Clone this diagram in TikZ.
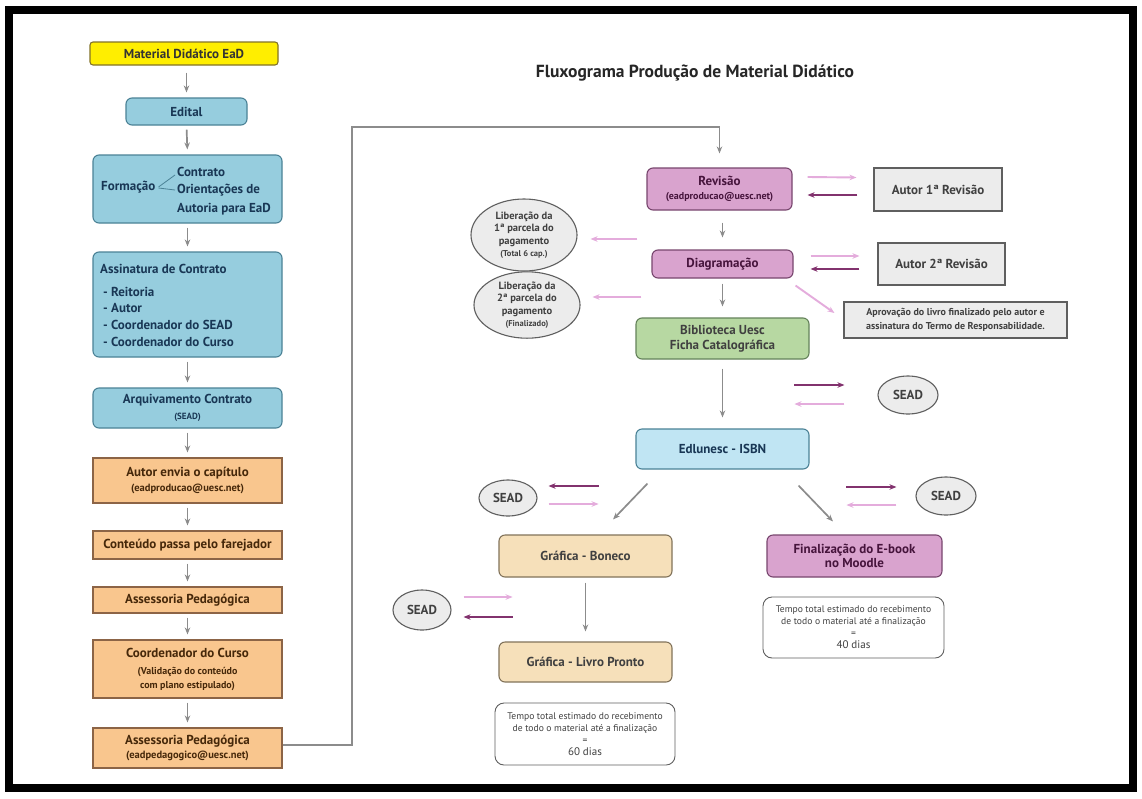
\documentclass[tikz,border=0pt]{standalone}
\usepackage{fontspec}
\setmainfont{PT Sans}
\usetikzlibrary{arrows.meta,shapes.geometric}
\definecolor{bluef}{RGB}{150,205,222}
\definecolor{blued}{RGB}{75,130,150}
\definecolor{bluet}{RGB}{25,55,85}
\definecolor{lbluef}{RGB}{192,229,243}
\definecolor{yelf}{RGB}{255,238,0}
\definecolor{yeld}{RGB}{130,115,40}
\definecolor{orf}{RGB}{249,198,142}
\definecolor{ord}{RGB}{140,100,70}
\definecolor{ort}{RGB}{70,40,10}
\definecolor{pkf}{RGB}{217,163,206}
\definecolor{pkd}{RGB}{120,70,110}
\definecolor{pkt}{RGB}{70,20,60}
\definecolor{grf}{RGB}{183,216,162}
\definecolor{grd}{RGB}{100,130,90}
\definecolor{tanf}{RGB}{246,224,186}
\definecolor{tand}{RGB}{130,115,90}
\definecolor{gyf}{RGB}{236,236,236}
\definecolor{gyd}{RGB}{95,95,95}
\definecolor{arrg}{RGB}{140,140,140}
\definecolor{arrl}{RGB}{228,172,220}
\definecolor{arrd}{RGB}{130,50,110}
\begin{document}
\begin{tikzpicture}[x=1pt,y=-1pt,
  bx/.style={draw, line width=1.1pt, inner sep=1pt, align=center,
    font=\fontsize{13}{16}\selectfont\bfseries},
  bluebox/.style={bx, fill=bluef, draw=blued, text=bluet, rounded corners=6pt},
  lbluebox/.style={bx, fill=lbluef, draw=blued, text=bluet, rounded corners=6pt},
  yelbox/.style={bx, fill=yelf, draw=yeld, text=black!80, rounded corners=3pt},
  orbox/.style={bx, fill=orf, draw=ord, text=ort},
  pkbox/.style={bx, fill=pkf, draw=pkd, text=pkt, rounded corners=6pt},
  grbox/.style={bx, fill=grf, draw=grd, text=black!75, rounded corners=6pt},
  tanbox/.style={bx, fill=tanf, draw=tand, text=black!75, rounded corners=6pt},
  gybox/.style={bx, fill=gyf, draw=gyd, text=black!75},
  gyell/.style={bx, ellipse, fill=gyf, draw=gyd, text=black!75, inner sep=0pt},
  notebox/.style={draw=gyd, line width=0.9pt, fill=white, rounded corners=9pt, align=center,
    font=\fontsize{9.6}{12}\selectfont, text=black!75, inner sep=0pt},
  ga/.style={draw=arrg, line width=1.7pt, -{Stealth[length=7pt,width=5.5pt]}},
  la/.style={draw=arrl, line width=1.9pt, -{Stealth[length=7pt,width=5.5pt]}},
  da/.style={draw=arrd, line width=1.9pt, -{Stealth[length=7pt,width=5.5pt]}},
  txt/.style={inner sep=0pt, text=bluet, font=\fontsize{13}{16}\selectfont\bfseries}
]
\useasboundingbox (0,0) rectangle (1142,798);
\fill[white] (0,0) rectangle (1142,798);
\draw[line width=8pt, black] (9,10) rectangle (1133,788);

% title
\node[inner sep=0pt, font=\fontsize{17.5}{20}\selectfont\bfseries, text=black!85] (title) at (695,73) {Fluxograma Produção de Material Didático};

% left column
\node[yelbox, minimum width=188, minimum height=23] (mat) at (184,53.5) {Material Didático EaD};
\node[bluebox, minimum width=121, minimum height=27] (edital) at (186.5,111.5) {Edital};
\node[bluebox, minimum width=189, minimum height=68] (form) at (187.5,189) {};
\node[txt, anchor=west] (fA) at (101,187) {Formação};
\node[txt, anchor=west] (fB) at (177,172) {Contrato};
\node[txt, anchor=west] (fC) at (177,190) {Orientações de};
\node[txt, anchor=west] (fD) at (177,209) {Autoria para EaD};
\draw[blued, line width=0.8pt] ([xshift=3pt]fA.east) -- ([xshift=-2pt,yshift=-3pt]fB.west);
\draw[blued, line width=0.8pt] ([xshift=3pt,yshift=-1pt]fA.east) -- ([xshift=-2pt]fC.west);

\node[bluebox, minimum width=189, minimum height=105] (assin) at (187.5,304.5) {};
\node[txt, anchor=west] (aT) at (100,269) {Assinatura de Contrato};
\node[txt, anchor=west] (a1) at (103,292) {- Reitoria};
\node[txt, anchor=west] (a2) at (103,308.5) {- Autor};
\node[txt, anchor=west] (a3) at (103,325) {- Coordenador do SEAD};
\node[txt, anchor=west] (a4) at (103,342) {- Coordenador do Curso};

\node[bluebox, minimum width=189, minimum height=40] (arq) at (187.5,408) {Arquivamento Contrato\\[0pt]\fontsize{9}{10}\selectfont (SEAD)};
\node[orbox, minimum width=189, minimum height=45] (autor) at (187.5,480.5) {Autor envia o capítulo\\[-1pt]\fontsize{10.5}{12}\selectfont (eadproducao@uesc.net)};
\node[orbox, minimum width=189, minimum height=28] (cont) at (187.5,545) {Conteúdo passa pelo farejador};
\node[orbox, minimum width=189, minimum height=26] (ass1) at (187.5,600) {Assessoria Pedagógica};
\node[orbox, minimum width=189, minimum height=58] (coord) at (187.5,669) {Coordenador do Curso\\[1pt]\fontsize{10}{11}\selectfont (Validação do conteúdo\\[-2pt]\fontsize{10}{11}\selectfont com plano estipulado)};
\node[orbox, minimum width=189, minimum height=40] (ass2) at (187.5,748) {Assessoria Pedagógica\\[-2pt]\fontsize{10.5}{12}\selectfont (eadpedagogico@uesc.net)};

\draw[ga, shorten <=7pt, shorten >=5pt] (mat.south -| edital.north) -- (edital.north);
\foreach \a/\b in {edital/form, form/assin, assin/arq, arq/autor, autor/cont, cont/ass1, ass1/coord, coord/ass2}
  \draw[ga, shorten <=4pt, shorten >=5pt] (\a.south) -- (\b.north);

% right column
\node[pkbox, minimum width=145, minimum height=42] (rev) at (719.5,189) {Revisão\\[-2pt]\fontsize{10}{12}\selectfont (eadproducao@uesc.net)};
\node[pkbox, minimum width=141, minimum height=28] (diag) at (722.5,264) {Diagramação};
\node[grbox, minimum width=173, minimum height=41] (bib) at (722.5,338.5) {Biblioteca Uesc\\[-1pt]Ficha Catalográfica};
\node[lbluebox, minimum width=173, minimum height=40] (edl) at (722.5,449) {Edlunesc - ISBN};
\node[gybox, minimum width=128, minimum height=43] (aut1) at (938,189.5) {Autor 1ª Revisão};
\node[gybox, minimum width=127, minimum height=42] (aut2) at (941.5,264) {Autor 2ª Revisão};
\node[gybox, minimum width=223, minimum height=36, font=\fontsize{10}{14}\selectfont\bfseries] (aprov) at (955.5,320) {Aprovação do livro finalizado pelo autor e\\assinatura do Termo de Responsabilidade.};
\node[gyell, minimum width=106, minimum height=72, font=\fontsize{10.5}{12.5}\selectfont\bfseries] (lib1) at (524,235) {Liberação da\\1ª parcela do\\pagamento\\\fontsize{8.5}{10}\selectfont (Total 6 cap.)};
\node[gyell, minimum width=106, minimum height=66, font=\fontsize{10.5}{12.5}\selectfont\bfseries] (lib2) at (527,305) {Liberação da\\2ª parcela do\\pagamento\\\fontsize{8.5}{10}\selectfont (Finalizado)};
\node[gyell, minimum width=60, minimum height=38] (sead1) at (908,395) {SEAD};
\node[gyell, minimum width=58, minimum height=36] (seadL) at (508,498) {SEAD};
\node[gyell, minimum width=60, minimum height=38] (seadR) at (946,496) {SEAD};
\node[gyell, minimum width=58, minimum height=40] (seadLL) at (422,610) {SEAD};
\node[tanbox, minimum width=173, minimum height=42] (gbon) at (585.5,556) {Gráfica - Boneco};
\node[tanbox, minimum width=173, minimum height=40] (gliv) at (585.5,662) {Gráfica - Livro Pronto};
\node[pkbox, minimum width=175, minimum height=42] (fin) at (854.5,556) {Finalização do E-book\\[-2pt]no Moodle};
\node[notebox, minimum width=180, minimum height=62] (n60) at (585,734) {Tempo total estimado do recebimento\\de todo o material até a finalização\\=\\\fontsize{11}{13}\selectfont 60 dias};
\node[notebox, minimum width=181, minimum height=61] (n40) at (853.5,627.5) {Tempo total estimado do recebimento\\de todo o material até a finalização\\=\\\fontsize{11}{13}\selectfont 40 dias};

% long connector
\coordinate (c1) at (352,745);
\coordinate (c2) at (352,127);
\draw[ga] (ass2.east |- c1) -- (c1) -- (c2) -- (rev.north |- c2) -- ([yshift=14pt]rev.north);

% vertical arrows right
\draw[ga, shorten <=12pt, shorten >=12pt] (rev.south -| diag.north) -- (diag.north);
\draw[ga, shorten <=5pt, shorten >=11pt] (diag.south) -- (bib.north);
\draw[ga, shorten <=9pt, shorten >=11pt] (bib.south) -- (edl.north);
\draw[ga, shorten <=5pt, shorten >=10pt] (gbon.south) -- (gliv.north);
\draw[ga] ([xshift=12pt,yshift=-14pt]edl.south west) -- ([xshift=27.5pt,yshift=15pt]gbon.north);
\draw[ga] ([xshift=-11pt,yshift=-16pt]edl.south east) -- ([xshift=-21.5pt,yshift=13pt]fin.north);

% revisao <-> autor 1
\draw[la] ([xshift=15pt,yshift=12pt]rev.east) -- ([xshift=-17pt,yshift=12pt]aut1.west);
\draw[da] ([xshift=-16pt,yshift=-5.5pt]aut1.west) -- ([xshift=15pt,yshift=-6pt]rev.east);
% diagramacao <-> autor 2
\draw[la] ([xshift=17pt,yshift=8pt]diag.east) -- ([xshift=-18pt,yshift=8pt]aut2.west);
\draw[da] ([xshift=-18pt,yshift=-5pt]aut2.west) -- ([xshift=17pt,yshift=-5pt]diag.east);
\draw[la] ([xshift=2pt,yshift=-7pt]diag.south east) -- ([xshift=-9pt,yshift=7pt]aprov.west);
% liberacao arrows
\draw[la] ([xshift=-14pt,yshift=25pt]diag.west) -- ([xshift=13pt,yshift=-4pt]lib1.east);
\draw[la] ([xshift=-10pt,yshift=-33pt]diag.west) -- ([xshift=12pt,yshift=8pt]lib2.east);
% sead arrows
\draw[da] ([xshift=-83pt,yshift=10pt]sead1.west) -- ([xshift=-33pt,yshift=10pt]sead1.west);
\draw[la] ([xshift=-33pt,yshift=-9pt]sead1.west) -- ([xshift=-83pt,yshift=-9pt]sead1.west);
\draw[da] ([xshift=61pt,yshift=12pt]seadL.east) -- ([xshift=11pt,yshift=12pt]seadL.east);
\draw[la] ([xshift=11pt,yshift=-6pt]seadL.east) -- ([xshift=61pt,yshift=-6pt]seadL.east);
\draw[da] ([xshift=-69pt,yshift=9pt]seadR.west) -- ([xshift=-19pt,yshift=9pt]seadR.west);
\draw[la] ([xshift=-19pt,yshift=-9pt]seadR.west) -- ([xshift=-69pt,yshift=-9pt]seadR.west);
\draw[la] ([xshift=12pt,yshift=13pt]seadLL.east) -- ([xshift=61pt,yshift=13pt]seadLL.east);
\draw[da] ([xshift=61pt,yshift=-7pt]seadLL.east) -- ([xshift=12pt,yshift=-7pt]seadLL.east);
\end{tikzpicture}
\end{document}
